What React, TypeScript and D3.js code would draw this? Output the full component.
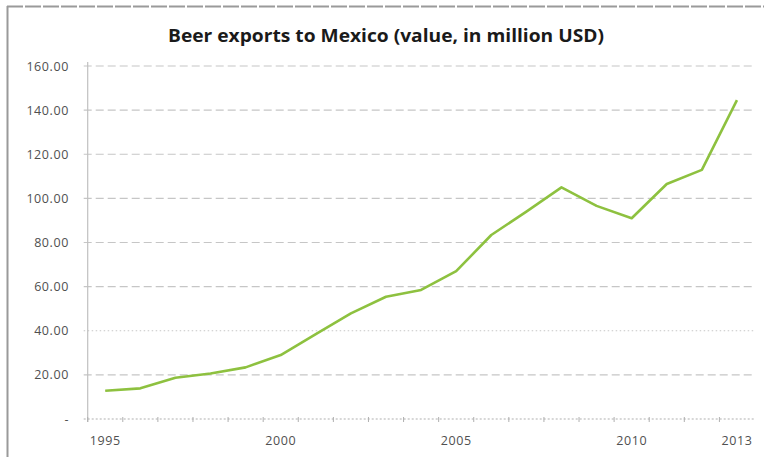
import React from "react";
import * as d3 from "d3";

const years = ["1995","1996","1997","1998","1999","2000","2001","2002","2003","2004","2005","2006","2007","2008","2009","2010","2011","2012","2013"];
const values = [12.8, 13.9, 18.7, 20.6, 23.4, 29.0, 38.5, 47.9, 55.4, 58.5, 67.0, 83.4, 94.0, 105.0, 96.6, 91.0, 106.5, 112.9, 144.5];
const yTicks = [0, 20, 40, 60, 80, 100, 120, 140, 160];
const shownYears = ["1995", "2000", "2005", "2010", "2013"];
const title = "Beer exports to Mexico (value, in million USD)";

const W = 764, H = 457;
const left = 87.7, right = 754.5, top = 66, bottom = 419;

export default function App() {
  const x = d3.scaleBand<string>().domain(years).range([left, right]).padding(0);
  const y = d3.scaleLinear().domain([0, 160]).range([bottom, top]);
  const line = d3.line<number>()
    .x((_, i) => (x(years[i]) as number) + x.bandwidth() / 2)
    .y((d) => y(d));
  const fmt = (v: number) => (v === 0 ? "-" : d3.format(".2f")(v));
  const font = "'Open Sans', 'Liberation Sans', sans-serif";
  return (
    <svg width={W} height={H} style={{ position: "absolute", left: 0, top: 0, background: "#fff" }}>
      <rect x={0} y={0} width={W} height={H} fill="#fff" />
      {/* frame */}
      <line x1={7} x2={W} y1={6.5} y2={6.5} stroke="#9a9a9a" strokeWidth={2} strokeDasharray="16,2" />
      <line x1={7.5} x2={7.5} y1={6} y2={H} stroke="#9a9a9a" strokeWidth={2} />
      <text x={386} y={42} textAnchor="middle" fontFamily={font} fontWeight={700} fontSize={17.5}
        textLength={436} lengthAdjust="spacingAndGlyphs" fill="#1a1a1a">{title}</text>
      {/* grid */}
      {yTicks.map((t) => (
        <g key={t}>
          {t !== 0 && (
            <line x1={left - 4} x2={right} y1={y(t)} y2={y(t)} stroke="#c6c6c6" strokeWidth={1.2}
              strokeDasharray={t === 40 ? "1.5,2.5" : "8,4"} />
          )}
          <text x={69} y={y(t) + 4.5} textAnchor="end" fontFamily={font} fontSize={12.5}
            letterSpacing={0.6} fill="#505050">{fmt(t)}</text>
        </g>
      ))}
      {/* axes */}
      <line x1={left} x2={left} y1={top - 4} y2={bottom + 3} stroke="#c0c0c0" strokeWidth={1.2} />
      <line x1={left - 4} x2={right} y1={bottom} y2={bottom} stroke="#b0b0b0" strokeWidth={1.2} strokeDasharray="2,2" />
      {years.map((yr) => (
        <line key={yr} x1={x(yr) as number} x2={x(yr) as number} y1={bottom - 2} y2={bottom + 3} stroke="#b0b0b0" strokeWidth={1} />
      ))}
      {shownYears.map((yr) => (
        <text key={yr} x={(x(yr) as number) + x.bandwidth() / 2} y={445} textAnchor="middle" fontFamily={font}
          fontSize={12.5} letterSpacing={0.6} fill="#505050">{yr}</text>
      ))}
      <path d={line(values) || ""} fill="none" stroke="#8cc43f" strokeWidth={2.6} strokeLinejoin="round" />
      <path d={line(values) || ""} fill="none" stroke="#a89a4a" strokeWidth={0.8} strokeDasharray="1,2" opacity={0.6} />
    </svg>
  );
}
